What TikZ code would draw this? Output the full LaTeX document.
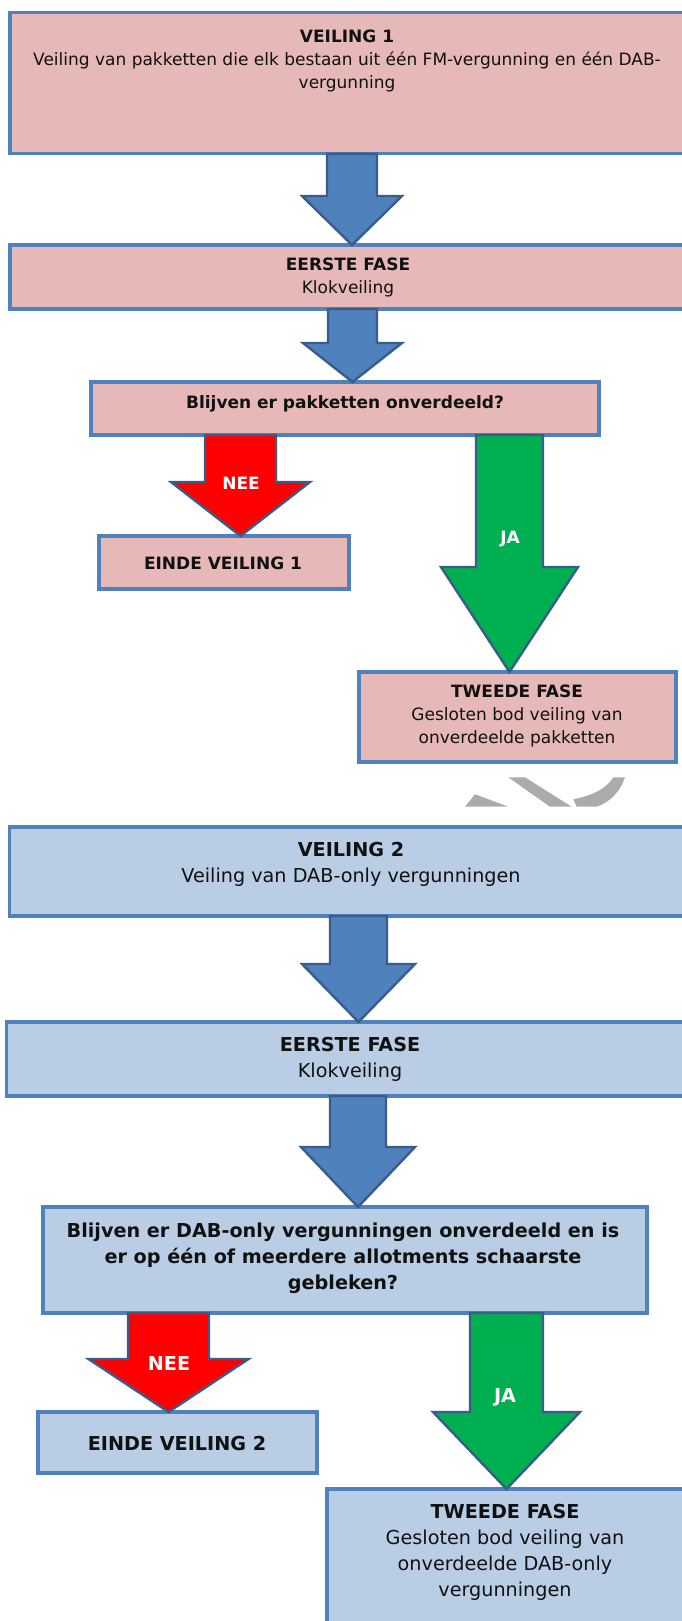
\documentclass[tikz,border=0pt]{standalone}
\usepackage{fontspec}
\setmainfont{DejaVu Sans}
\usetikzlibrary{calc}
\definecolor{pinkf}{HTML}{E6B9B8}
\definecolor{bluef}{HTML}{B9CDE5}
\definecolor{boxline}{HTML}{4F81BD}
\definecolor{arrowf}{HTML}{4F81BD}
\definecolor{arrowline}{HTML}{385D8A}
\definecolor{neef}{HTML}{FF0000}
\definecolor{jaf}{HTML}{00B050}
\definecolor{wmark}{HTML}{ABABAB}
\definecolor{txtc}{HTML}{111111}
\newcommand{\blockarrow}[8]{%
  \coordinate (#8c) at (#2,0);
  \coordinate (#8a) at (#6.south -| #8c);
  \coordinate (#8b) at (#7.north -| #8c);
  \draw[#1] ($(#8a)+(-#3,0)$) -- ($(#8a)+(#3,0)$) -- (#2+#3,#5) -- (#2+#4,#5) -- (#8b) -- (#2-#4,#5) -- (#2-#3,#5) -- cycle;
}
\tikzset{
  boxbase/.style={draw=boxline, line width=3.2pt, inner sep=0pt, outer sep=0pt, rectangle},
  pinkbox/.style={boxbase, fill=pinkf},
  bluebox/.style={boxbase, fill=bluef},
  txta/.style={align=center, inner sep=0pt, text=txtc, font=\fontsize{17}{23}\selectfont},
  txtb/.style={align=center, inner sep=0pt, text=txtc, font=\fontsize{19.2}{26}\selectfont},
  arrblue/.style={fill=arrowf, draw=arrowline, line width=2.4pt, line join=miter},
  arrred/.style={fill=neef, draw=arrowline, line width=2.4pt, line join=miter},
  arrgreen/.style={fill=jaf, draw=arrowline, line width=2.4pt, line join=miter},
  lbla/.style={text=white, inner sep=0pt, font=\fontsize{17}{20}\selectfont\bfseries},
  lblb/.style={text=white, inner sep=0pt, font=\fontsize{19.2}{22}\selectfont\bfseries},
}
\begin{document}
\begin{tikzpicture}[x=1pt,y=-1pt]
\useasboundingbox (0,0) rectangle (682,1621);
\clip (0,0) rectangle (682,1621);
\fill[white] (0,0) rectangle (682,1621);
% ---- part 1 (pink)
\node[pinkbox, minimum width=676pt, minimum height=141pt] (v1) at (348,83.4) {};
\node[txta] (v1t) at (347,61) {\textbf{VEILING 1}\\Veiling van pakketten die elk bestaan uit één FM-vergunning en één DAB-\\vergunning};
\node[pinkbox, minimum width=676pt, minimum height=64pt] (f1) at (348,277) {};
\node[txta] (f1t) at (348,277) {\textbf{EERSTE FASE}\\Klokveiling};
\node[pinkbox, minimum width=508pt, minimum height=53pt] (q1) at (345,408.5) {};
\node[txta] (q1t) at (345,404) {\textbf{Blijven er pakketten onverdeeld?}};
\node[pinkbox, minimum width=250pt, minimum height=53pt] (e1) at (224,562.5) {};
\node[txta] (e1t) at (223,563) {\textbf{EINDE VEILING 1}};
\node[pinkbox, minimum width=317pt, minimum height=90pt] (t1) at (517.5,717) {};
\node[txta] (t1t) at (517,716) {\textbf{TWEEDE FASE}\\Gesloten bod veiling van\\onverdeelde pakketten};
% ---- part 2 (blue)
\node[bluebox, minimum width=683pt, minimum height=89pt] (v2) at (351,871.5) {};
\node[txtb] (v2t) at (351,864.5) {\textbf{VEILING 2}\\Veiling van DAB-only vergunningen};
\node[bluebox, minimum width=687pt, minimum height=74pt] (f2) at (350,1059) {};
\node[txtb] (f2t) at (350,1059.5) {\textbf{EERSTE FASE}\\Klokveiling};
\node[bluebox, minimum width=604pt, minimum height=106pt] (q2) at (345,1260) {};
\node[txtb] (q2t) at (343,1258) {\textbf{Blijven er DAB-only vergunningen onverdeeld en is}\\\textbf{er op één of meerdere allotments schaarste}\\\textbf{gebleken?}};
\node[bluebox, minimum width=279pt, minimum height=61pt] (e2) at (177.5,1442.5) {};
\node[txtb] (e2t) at (177,1443) {\textbf{EINDE VEILING 2}};
\node[bluebox, minimum width=360pt, minimum height=160pt] (t2) at (507,1569) {};
\node[txtb] (t2t) at (505,1552.5) {\textbf{TWEEDE FASE}\\Gesloten bod veiling van\\onverdeelde DAB-only\\vergunningen};
% ---- arrows
\blockarrow{arrblue}{352}{25}{50}{196}{v1}{f1}{a1}
\blockarrow{arrblue}{352.5}{24.5}{49.5}{343}{f1}{q1}{a2}
\blockarrow{arrred}{240.5}{35.5}{69.5}{482}{q1}{e1}{n1}
\blockarrow{arrgreen}{509.5}{33.5}{68.5}{567}{q1}{t1}{j1}
\blockarrow{arrblue}{358.5}{28.5}{56.5}{964}{v2}{f2}{a3}
\blockarrow{arrblue}{358}{28}{57}{1147}{f2}{q2}{a4}
\blockarrow{arrred}{168.5}{40.5}{80}{1359}{q2}{e2}{n2}
\blockarrow{arrgreen}{506.5}{36.5}{73.5}{1412}{q2}{t2}{j2}
\node[lbla] (nee1) at (241,483) {NEE};
\node[lbla] (ja1) at (510,539) {JA};
\node[lblb] (nee2) at (169,1363) {NEE};
\node[lblb] (ja2) at (505,1397) {JA};
% ---- grey watermark fragment
\fill[wmark] (465,806.7) -- (475,794.3) -- (508.3,806.7) -- cycle;
\fill[wmark] (508.3,777.3) -- (525,777.3) -- (571.7,806.7) -- (550,806.7) -- cycle;
\fill[wmark] (573.3,799.3) .. controls (594,795) and (607,788) .. (613.3,777.3) -- (625,777.3) .. controls (620,792) and (610,802) .. (596.7,806.7) -- (576.7,806.7) -- cycle;
\end{tikzpicture}
\end{document}
